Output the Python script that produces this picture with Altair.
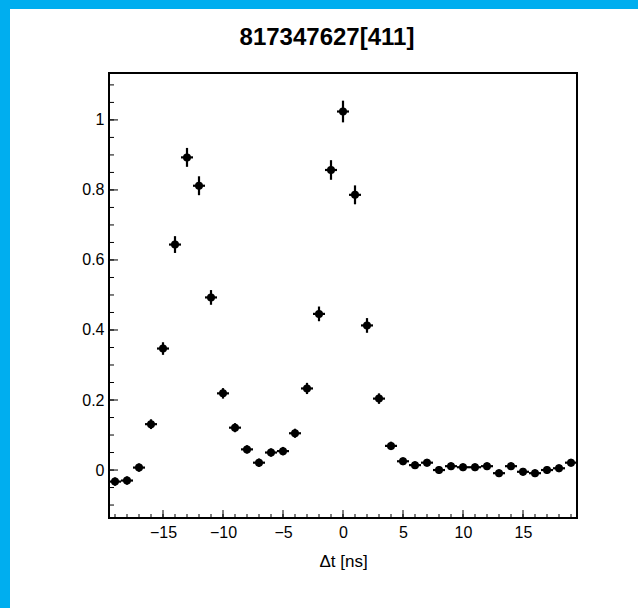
import altair as alt
import pandas as pd

# ---- data ----
dt_ns = list(range(-19, 20))
values = [-0.033, -0.030, 0.007, 0.131, 0.347, 0.644, 0.893, 0.812, 0.493, 0.219,
          0.121, 0.059, 0.021, 0.050, 0.054, 0.105, 0.233, 0.446, 0.857, 1.024,
          0.786, 0.413, 0.204, 0.069, 0.025, 0.014, 0.021, 0.000, 0.011, 0.008,
          0.008, 0.011, -0.009, 0.011, -0.005, -0.009, 0.000, 0.005, 0.021]
errors = [0.012, 0.012, 0.012, 0.014, 0.018, 0.024, 0.027, 0.027, 0.021, 0.015,
          0.013, 0.012, 0.012, 0.012, 0.012, 0.013, 0.016, 0.021, 0.028, 0.031,
          0.027, 0.021, 0.015, 0.012, 0.011, 0.011, 0.011, 0.011, 0.011, 0.011,
          0.011, 0.011, 0.011, 0.011, 0.011, 0.011, 0.011, 0.011, 0.011]
x_major = [-15, -10, -5, 0, 5, 10, 15]
x_minor = list(range(-19, 20))
y_major = [0, 0.2, 0.4, 0.6, 0.8, 1.0]
y_minor = [round(-0.1 + 0.05 * i, 2) for i in range(25)]
title_text = "817347627[411]"
x_title = "Δt [ns]"

X_DOMAIN = [-19.5, 19.5]
Y_DOMAIN = [-0.137, 1.134]
W, H = 468, 445

df = pd.DataFrame({"x": dt_ns, "y": values, "e": errors})
df["lo"] = df["y"] - df["e"]
df["hi"] = df["y"] + df["e"]
df["xl"] = df["x"] - 0.5
df["xh"] = df["x"] + 0.5

xs = alt.Scale(domain=X_DOMAIN, nice=False, zero=False)
ys = alt.Scale(domain=Y_DOMAIN, nice=False, zero=False)
FONT = "Liberation Sans"

base = alt.Chart(df)

points = base.mark_circle(size=64, color="black", opacity=1).encode(
    x=alt.X("x:Q", scale=xs, title=x_title,
            axis=alt.Axis(values=x_major, ticks=False, tickSize=0, domain=False, grid=False,
                          labelFont=FONT, labelFontSize=16, labelColor="black",
                          labelPadding=6, format="d",
                          titleFont=FONT, titleFontSize=17, titleFontWeight="normal",
                          titleColor="black", titlePadding=13)),
    y=alt.Y("y:Q", scale=ys, title=None,
            axis=alt.Axis(values=y_major, ticks=False, tickSize=0, domain=False, grid=False,
                          labelFont=FONT, labelFontSize=16, labelColor="black",
                          labelPadding=5, format="~g")),
)

vbars = base.mark_rule(color="black", strokeWidth=2.2).encode(
    x=alt.X("x:Q", scale=xs), y=alt.Y("lo:Q", scale=ys), y2="hi:Q")
hbars = base.mark_rule(color="black", strokeWidth=2.2).encode(
    x=alt.X("xl:Q", scale=xs), x2="xh:Q", y=alt.Y("y:Q", scale=ys))

# inward ticks (ROOT style)
ymaj = alt.Chart(pd.DataFrame({"v": y_major})).mark_rule(color="black", strokeWidth=1).encode(
    y=alt.Y("v:Q", scale=ys), x=alt.value(0), x2=alt.value(9))
ymin = alt.Chart(pd.DataFrame({"v": y_minor})).mark_rule(color="black", strokeWidth=1).encode(
    y=alt.Y("v:Q", scale=ys), x=alt.value(0), x2=alt.value(5))
xmaj = alt.Chart(pd.DataFrame({"v": x_major})).mark_rule(color="black", strokeWidth=1).encode(
    x=alt.X("v:Q", scale=xs), y=alt.value(H), y2=alt.value(H - 8))
xmin = alt.Chart(pd.DataFrame({"v": x_minor})).mark_rule(color="black", strokeWidth=1).encode(
    x=alt.X("v:Q", scale=xs), y=alt.value(H), y2=alt.value(H - 4))

# blue canvas border (top and left)
border_left = alt.Chart(pd.DataFrame({"k": [0]})).mark_rect(color="#00AEEF").encode(
    x=alt.value(-109), x2=alt.value(-99), y=alt.value(-73), y2=alt.value(H + 90))
border_top = alt.Chart(pd.DataFrame({"k": [0]})).mark_rect(color="#00AEEF").encode(
    x=alt.value(-109), x2=alt.value(W + 61), y=alt.value(-73), y2=alt.value(-64))

title = alt.Chart(pd.DataFrame({"t": [title_text]})).mark_text(
    font=FONT, fontSize=24, fontWeight="bold", color="black",
    align="center", baseline="alphabetic").encode(
    text="t:N", x=alt.value(218), y=alt.value(-28))

chart = alt.layer(
    border_left, border_top, vbars, hbars, points, ymaj, ymin, xmaj, xmin, title
).properties(
    width=W, height=H,
    padding={"left": 109, "top": 73, "right": 61, "bottom": 90},
    autosize=alt.AutoSizeParams(type="none"),
    background="white",
).configure_view(stroke="black", strokeWidth=2, fill="white")

chart.save("out.html", embed_options={"renderer": "svg", "actions": False})
